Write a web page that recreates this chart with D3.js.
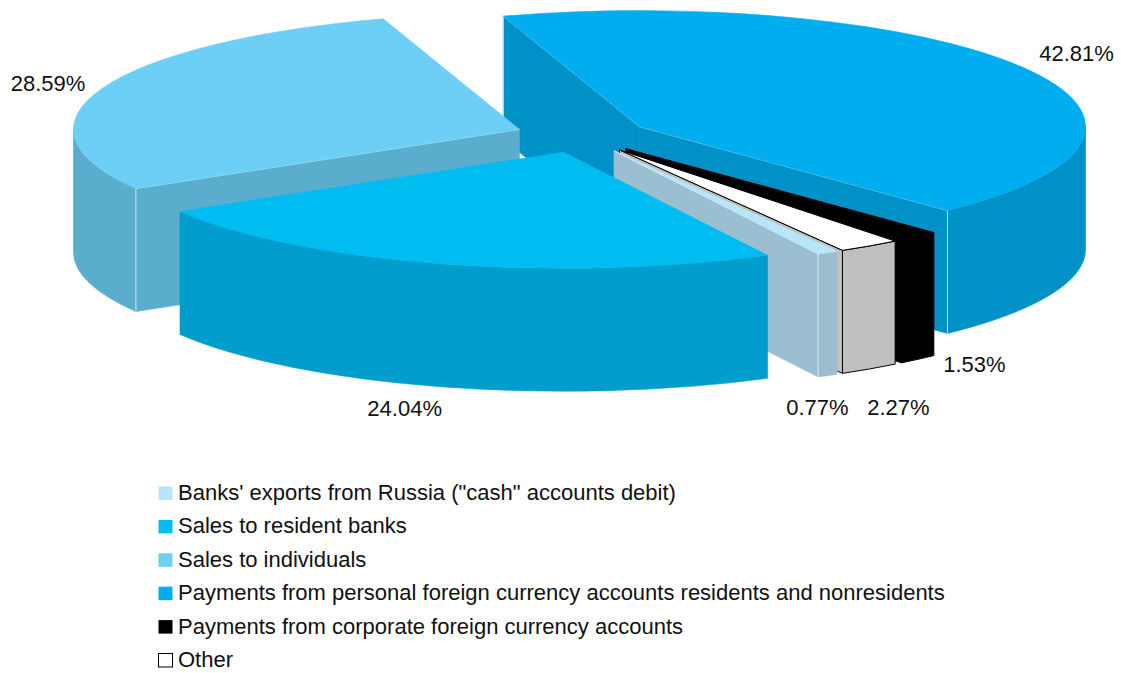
<!DOCTYPE html>
<html>
<head>
<meta charset="utf-8">
<script src="https://cdn.jsdelivr.net/npm/d3@7/dist/d3.min.js"></script>
<style>
  html, body { margin: 0; padding: 0; background: #ffffff; }
  svg { display: block; }
  text { font-family: "Liberation Sans", Arial, Helvetica, sans-serif; fill: #111; }
</style>
</head>
<body>
<svg id="chart" width="1121" height="673"></svg>
<script>
// Currency outflow structure, shares in per cent
const categories = [
  "Banks' exports from Russia (\"cash\" accounts debit)",
  "Sales to resident banks",
  "Sales to individuals",
  "Payments from personal foreign currency accounts residents and nonresidents",
  "Payments from corporate foreign currency accounts",
  "Other"
];
const shares = [0.77, 24.04, 28.59, 42.81, 1.53, 2.27];
const valueLabels = shares.map(v => v.toFixed(2) + "%");

// Face colours: top surface and the darker vertical walls
const topColors  = ["#b9e5f8", "#00bcf1", "#6dcff6", "#00adee", "#000000", "#ffffff"];
const sideColors = ["#9bbfd1", "#009dcd", "#5aadcc", "#0091c7", "#000000", "#c0c0c0"];
const edgeColors = [null, null, null, null, "#000000", "#000000"];
const highlight = "rgba(235,248,253,0.85)";

// 3D pie geometry
const cx = 582, cy = 135.5;     // centre of the top ellipse
const rx = 446, ry = 116;       // ellipse radii
const depth = 123;              // wall height
const explode = 0.15;           // every slice is pulled out by 15% of the radius
const labelK = 1.2;
// fine placement of the percentage labels
const labelNudge = [[-53, 11], [-11, -1], [29, 3], [-23, -2], [-2, -13], [-21, 19]];

const svg = d3.select("#chart");

const pie = d3.pie().sort(null)
  .startAngle(150 * Math.PI / 180)
  .endAngle(510 * Math.PI / 180);

const slices = pie(shares).map((a, i) => {
  const s = a.startAngle - Math.PI / 2;
  const e = a.endAngle - Math.PI / 2;
  const m = (s + e) / 2;
  const apex = [cx + explode * rx * Math.cos(m), cy + explode * ry * Math.sin(m)];
  return { i, s, e, m, apex };
});

const rim = (apex, t, z = 0) => [apex[0] + rx * Math.cos(t), apex[1] + ry * Math.sin(t) + z];
const pt = p => p[0].toFixed(2) + "," + p[1].toFixed(2);

function topPath(d) {
  const a = rim(d.apex, d.s), b = rim(d.apex, d.e);
  const large = (d.e - d.s) > Math.PI ? 1 : 0;
  return `M${pt(d.apex)}L${pt(a)}A${rx},${ry} 0 ${large} 1 ${pt(b)}Z`;
}

function cutPath(d, t) {
  const a = rim(d.apex, t), a2 = rim(d.apex, t, depth);
  const c2 = [d.apex[0], d.apex[1] + depth];
  return `M${pt(d.apex)}L${pt(a)}L${pt(a2)}L${pt(c2)}Z`;
}

// parts of [s,e] that lie on the near half of the ellipse
function frontRanges(s, e) {
  const out = [];
  for (let k = -1; k <= 2; k++) {
    const lo = Math.max(s, 2 * Math.PI * k), hi = Math.min(e, 2 * Math.PI * k + Math.PI);
    if (hi > lo + 1e-6) out.push([lo, hi]);
  }
  return out;
}

function sidePath(d, lo, hi) {
  const a = rim(d.apex, lo), b = rim(d.apex, hi);
  const a2 = rim(d.apex, lo, depth), b2 = rim(d.apex, hi, depth);
  return `M${pt(a)}A${rx},${ry} 0 0 1 ${pt(b)}L${pt(b2)}A${rx},${ry} 0 0 0 ${pt(a2)}Z`;
}

// paint from the far slices to the near ones
const order = slices.slice().sort((p, q) => Math.sin(p.m) - Math.sin(q.m));

const pieG = svg.append("g");
order.forEach(d => {
  const g = pieG.append("g");
  const edge = edgeColors[d.i];
  const sw = edge ? 1 : 0.6;
  const stroke = c => edge || c;
  const cuts = [];
  if (Math.cos(d.s) < 0) cuts.push(d.s);
  if (Math.cos(d.e) > 0) cuts.push(d.e);
  cuts.forEach(t => {
    g.append("path").attr("d", cutPath(d, t))
      .attr("fill", sideColors[d.i]).attr("stroke", stroke(sideColors[d.i])).attr("stroke-width", sw)
      .attr("stroke-linejoin", "round");
  });
  frontRanges(d.s, d.e).forEach(([lo, hi]) => {
    g.append("path").attr("d", sidePath(d, lo, hi))
      .attr("fill", sideColors[d.i]).attr("stroke", stroke(sideColors[d.i])).attr("stroke-width", sw)
      .attr("stroke-linejoin", "round");
  });
  // faint light edges where the walls meet
  if (!edge) {
    cuts.forEach(t => {
      const a = rim(d.apex, t), a2 = rim(d.apex, t, depth);
      g.append("path").attr("d", `M${pt(d.apex)}L${pt(a)}L${pt(a2)}`)
        .attr("fill", "none").attr("stroke", highlight).attr("stroke-width", 0.9);
    });
  }
  g.append("path").attr("d", topPath(d))
    .attr("fill", topColors[d.i]).attr("stroke", stroke(topColors[d.i])).attr("stroke-width", sw)
    .attr("stroke-linejoin", "round");
});

// percentage labels
svg.append("g").selectAll("text")
  .data(slices)
  .join("text")
  .attr("x", d => d.apex[0] + labelK * rx * Math.cos(d.m) + labelNudge[d.i][0])
  .attr("y", d => d.apex[1] + labelK * ry * Math.sin(d.m) + (Math.sin(d.m) > 0 ? depth : 0) + labelNudge[d.i][1])
  .attr("dy", "0.36em")
  .attr("text-anchor", "middle")
  .attr("font-size", 22)
  .text(d => valueLabels[d.i]);

// legend
const legendY = d3.scaleLinear().domain([0, categories.length - 1]).range([500, 667]);
const legend = svg.append("g").selectAll("g")
  .data(categories)
  .join("g")
  .attr("transform", (d, i) => `translate(158,${legendY(i)})`);

legend.append("rect")
  .attr("x", 0.5).attr("y", -13.5)
  .attr("width", 14).attr("height", 13.5)
  .attr("fill", (d, i) => topColors[i])
  .attr("stroke", (d, i) => i === categories.length - 1 ? "#000" : "none")
  .attr("stroke-width", 1);

legend.append("text")
  .attr("x", 20).attr("y", 0)
  .attr("font-size", 22)
  .text(d => d);
</script>
</body>
</html>
